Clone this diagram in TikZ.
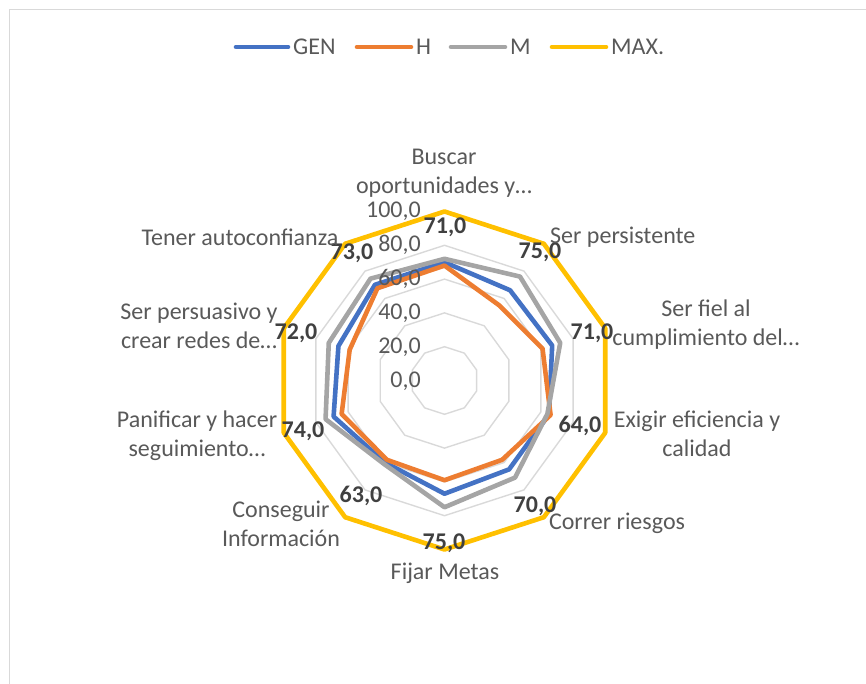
\documentclass[tikz,border=0pt]{standalone}
\usepackage{fontspec}
\setmainfont{Carlito}
\usepackage{tikz}
\usetikzlibrary{positioning}

\definecolor{genblue}{HTML}{4472C4}
\definecolor{horange}{HTML}{ED7D31}
\definecolor{mgray}{HTML}{A5A5A5}
\definecolor{maxyellow}{HTML}{FFC000}
\definecolor{gridgray}{HTML}{D9D9D9}
\definecolor{txtgray}{HTML}{595959}
\definecolor{lblgray}{HTML}{404040}

\begin{document}
\begin{tikzpicture}[
        x=1pt, y=-1pt,
        series/.style={line width=4.6pt, line join=round},
        gen_line/.style={series, genblue},
        h_line/.style={series, horange},
        m_line/.style={series, mgray},
        max_line/.style={series, maxyellow},
        ring/.style={draw=gridgray, line width=1.4pt},
        axis_text/.style={font=\fontsize{24}{29}\selectfont, text=txtgray, align=center, inner sep=0pt},
        tick_text/.style={font=\fontsize{24}{29}\selectfont, text=txtgray, inner sep=0pt, anchor=east},
        value_text/.style={font=\fontsize{24}{29}\selectfont\bfseries, text=lblgray, inner sep=0pt},
        legend_text/.style={font=\fontsize{24}{29}\selectfont, text=txtgray, inner sep=0pt, anchor=west}
    ]
    \useasboundingbox (0,0) rectangle (866,684);

    % --- Chart frame ---
    \draw[gridgray, line width=1.4pt] (9.5,684) -- (9.5,9.5) -- (866,9.5);

    % --- Legend ---
    \node[legend_text] (leg_gen) at (293,47) {GEN};
    \node[legend_text] (leg_h) at (416,47) {H};
    \node[legend_text] (leg_m) at (510,47) {M};
    \node[legend_text] (leg_max) at (611,47) {MAX.};
    \draw[gen_line, line cap=round] ([xshift=-5pt]leg_gen.west) -- ++(-52,0);
    \draw[h_line, line cap=round] ([xshift=-5pt]leg_h.west) -- ++(-54,0);
    \draw[m_line, line cap=round] ([xshift=-5pt]leg_m.west) -- ++(-54,0);
    \draw[max_line, line cap=round] ([xshift=-5pt]leg_max.west) -- ++(-54,0);

    % --- Radar grid and series ---
    \begin{scope}[shift={(444.5,380.5)}, x=1.69pt, y=1.69pt]
        \foreach \r in {20,40,60,80,100}
            \draw[ring] (90:\r) \foreach \a in {54,18,...,-234} { -- (\a:\r) } -- cycle;

        % GEN
        \draw[gen_line] (90:70) -- (54:66) -- (18:67) -- (-18:65) -- (-54:65) -- (-90:67)
            -- (-126:60) -- (-162:69) -- (162:66) -- (126:70) -- cycle;
        % H
        \draw[h_line] (90:68) -- (54:55) -- (18:61) -- (-18:66) -- (-54:58) -- (-90:59)
            -- (-126:58) -- (-162:64) -- (162:59) -- (126:67.5) -- cycle;
        % M
        \draw[m_line] (90:72) -- (54:76) -- (18:72) -- (-18:64) -- (-54:71) -- (-90:75)
            -- (-126:61) -- (-162:74) -- (162:72) -- (126:74.5) -- cycle;
        % MAX.
        \draw[max_line] (90:100) \foreach \a in {54,18,...,-234} { -- (\a:100) } -- cycle;
    \end{scope}

    % --- Scale labels ---
    \node[tick_text] (tick0) at (421,381) {0,0};
    \node[tick_text] (tick20) at (421,347) {20,0};
    \node[tick_text] (tick40) at (421,313) {40,0};
    \node[tick_text] (tick60) at (421,279) {60,0};
    \node[tick_text] (tick80) at (421,245) {80,0};
    \node[tick_text] (tick100) at (421,211) {100,0};

    % --- Value labels ---
    \node[value_text] (val_buscar) at (445,227) {71,0};
    \node[value_text] (val_persist) at (540,252) {75,0};
    \node[value_text] (val_fiel) at (592,333) {71,0};
    \node[value_text] (val_exigir) at (580,426) {64,0};
    \node[value_text] (val_correr) at (535,506) {70,0};
    \node[value_text] (val_metas) at (444,543) {75,0};
    \node[value_text] (val_info) at (361,496) {63,0};
    \node[value_text] (val_panif) at (303,431) {74,0};
    \node[value_text] (val_persua) at (296,333) {72,0};
    \node[value_text] (val_autoc) at (352,253) {73,0};

    % --- Category labels ---
    \node[axis_text] (cat_buscar) at (444,173) {Buscar\\oportunidades y\ldots};
    \node[axis_text, anchor=west] (cat_persist) at (550,237) {Ser persistente};
    \node[axis_text] (cat_fiel) at (706,325) {Ser fiel al\\cumplimiento del\ldots};
    \node[axis_text] (cat_exigir) at (697,434) {Exigir eficiencia y\\calidad};
    \node[axis_text] (cat_correr) at (617,523) {Correr riesgos};
    \node[axis_text] (cat_metas) at (445,573) {Fijar Metas};
    \node[axis_text] (cat_info) at (281,524) {Conseguir\\Información};
    \node[axis_text] (cat_panif) at (197,436) {Panificar y hacer\\seguimiento\ldots};
    \node[axis_text] (cat_persua) at (199,326) {Ser persuasivo y\\crear redes de\ldots};
    \node[axis_text] (cat_autoc) at (240,237) {Tener autoconfianza};

\end{tikzpicture}
\end{document}
